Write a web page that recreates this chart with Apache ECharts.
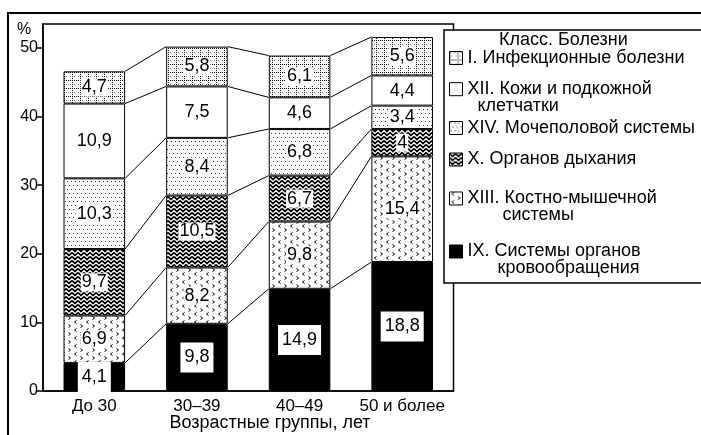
<!DOCTYPE html>
<html>
<head>
<meta charset="utf-8">
<script src="https://cdn.jsdelivr.net/npm/echarts@6/dist/echarts.min.js"></script>
<style>html,body{margin:0;padding:0;background:#fff;}#c{width:701px;height:435px;}</style>
</head>
<body>
<div id="c"></div>
<script>
// ---- data ----
const categories = ['До 30', '30–39', '40–49', '50 и более'];
const seriesNames = [
  'IX. Системы органов\n      кровообращения',
  'XIII. Костно-мышечной\n       системы',
  'X. Органов дыхания',
  'XIV. Мочеполовой системы',
  'XII. Кожи и подкожной\n  клетчатки',
  'I. Инфекционные болезни'
];
const valsIX   = [4.1, 9.8, 14.9, 18.8];
const valsXIII = [6.9, 8.2, 9.8, 15.4];
const valsX    = [9.7, 10.5, 6.7, 4];
const valsXIV  = [10.3, 8.4, 6.8, 3.4];
const valsXII  = [10.9, 7.5, 4.6, 4.4];
const valsI    = [4.7, 5.8, 6.1, 5.6];
const yTicks = [0, 10, 20, 30, 40, 50];
const legendTitle = 'Класс. Болезни';
const xTitle = 'Возрастные группы, лет';
const yTitle = '%';

const allVals = [valsIX, valsXIII, valsX, valsXIV, valsXII, valsI];

// ---- patterns ----
function makeTile(w, h, draw) {
  const c = document.createElement('canvas');
  c.width = w; c.height = h;
  const g = c.getContext('2d');
  g.fillStyle = '#fff'; g.fillRect(0, 0, w, h);
  g.fillStyle = '#000'; g.strokeStyle = '#000';
  draw(g);
  return { image: c, repeat: 'repeat' };
}
const patGrid = makeTile(8, 8, g => {
  for (let i = 0; i < 8; i += 2) { g.fillRect(0, i, 1, 1); g.fillRect(i, 0, 1, 1); }
  g.fillStyle = '#777';
  g.fillRect(2, 4, 1, 1); g.fillRect(6, 4, 1, 1);
});
const patDots = makeTile(4, 8, g => {
  g.fillStyle = '#333';
  g.fillRect(1, 1, 1, 1); g.fillRect(3, 5, 1, 1);
});
const patZig = makeTile(6, 4, g => {
  g.lineWidth = 1.6;
  for (let oy = -4; oy <= 4; oy += 4) {
    g.beginPath();
    g.moveTo(0, oy + 0.5); g.lineTo(3, oy + 3.5); g.lineTo(6, oy + 0.5);
    g.stroke();
  }
});
const patChev = makeTile(12, 8, g => {
  g.lineWidth = 1;
  g.beginPath();
  g.moveTo(4.5, 0.5); g.lineTo(2.5, 2); g.lineTo(4.5, 3.5);
  g.moveTo(8.5, 4.5); g.lineTo(10.5, 6); g.lineTo(8.5, 7.5);
  g.stroke();
});
const fills = ['#000', patChev, patZig, patDots, '#fff', patGrid];

const fmt = v => String(v).replace('.', ',');

// ---- connector lines data (cumulative tops) ----
const connData = [];
{
  const cum = [0, 0, 0, 0];
  allVals.forEach(arr => {
    for (let i = 0; i < 4; i++) cum[i] = +(cum[i] + arr[i]).toFixed(2);
    for (let i = 0; i < 3; i++) connData.push([i, cum[i], cum[i + 1]]);
  });
}

const series = allVals.map((arr, k) => ({
  name: seriesNames[k],
  type: 'bar',
  stack: 'all',
  barWidth: '60%',
  data: arr,
  itemStyle: { color: fills[k], borderColor: '#000', borderWidth: 1 },
  label: {
    show: true, position: 'inside',
    formatter: p => fmt(p.value),
    color: '#000', fontSize: 18, fontFamily: 'Liberation Sans',
    backgroundColor: '#fff',
    padding: k === 0 ? [6, 4] : [0, 1]
  },
  emphasis: { disabled: true },
  animation: false
}));
series.push({
  type: 'custom',
  data: connData,
  silent: true,
  animation: false,
  z: 1,
  renderItem: (params, api) => {
    const i = api.value(0);
    const half = api.size([1, 0])[0] * 0.3;
    const p1 = api.coord([i, api.value(1)]);
    const p2 = api.coord([i + 1, api.value(2)]);
    return { type: 'line', shape: { x1: p1[0] + half, y1: p1[1], x2: p2[0] - half, y2: p2[1] },
      style: { stroke: '#000', lineWidth: 1 } };
  }
});

// legend positions (icon centers)
const legendCenters = [251, 198, 159, 127.5, 88.7, 57.5];
const LH = 17;
const legends = seriesNames.map((n, k) => {
  const two = n.indexOf('\n') >= 0;
  return {
    data: [n], left: 449, top: legendCenters[k] - (two ? 1.5 * LH : LH / 2),
    padding: 0, itemWidth: 13, itemHeight: 13, itemGap: 0, icon: 'rect', selectedMode: false, z: 50,
    formatter: name => (name.indexOf('\n') >= 0 ? ' \n' + name : name),
    itemStyle: { borderColor: '#000', borderWidth: 1 },
    textStyle: { fontSize: 18, fontFamily: 'Liberation Sans', color: '#000', lineHeight: LH }
  };
});

const chart = echarts.init(document.getElementById('c'), null, { renderer: 'canvas' });
chart.setOption({
  animation: false,
  backgroundColor: '#fff',
  grid: { left: 43, right: 247.5, top: 24, bottom: 44, show: true, borderColor: '#000', borderWidth: 1.5 },
  xAxis: {
    type: 'category', data: categories,
    axisLine: { lineStyle: { color: '#000', width: 1.5 } },
    axisTick: { length: 5, lineStyle: { color: '#000', width: 1.5 } },
    axisLabel: { color: '#000', fontSize: 17, fontFamily: 'Liberation Sans', margin: 7, interval: 0 }
  },
  yAxis: {
    type: 'value', min: yTicks[0], max: 53.5, interval: yTicks[1] - yTicks[0],
    splitLine: { show: false },
    axisLine: { show: true, lineStyle: { color: '#000', width: 1.5 } },
    axisTick: { show: true, length: 6, lineStyle: { color: '#000', width: 1.5 } },
    axisLabel: { color: '#000', fontSize: 16, fontFamily: 'Liberation Sans', margin: 5, showMaxLabel: false }
  },
  legend: legends,
  series: series,
  graphic: [
    { type: 'rect', z: 40, shape: { x: 8, y: 13, width: 720, height: 450 },
      style: { fill: null, stroke: '#000', lineWidth: 2 } },
    { type: 'rect', z: 40, shape: { x: 444, y: 30, width: 280, height: 253 },
      style: { fill: '#fff', stroke: '#000', lineWidth: 1.5 } },
    { type: 'text', z: 45, style: { text: legendTitle, x: 499, y: 31, fontSize: 18, fontFamily: 'Liberation Sans', fill: '#000' } },
    { type: 'text', z: 45, style: { text: yTitle, x: 17, y: 22, fontSize: 16, fontFamily: 'Liberation Sans', fill: '#000' } },
    { type: 'text', z: 45, style: { text: xTitle, x: 270, y: 414, align: 'center', fontSize: 18, fontFamily: 'Liberation Sans', fill: '#000' } }
  ]
});
</script>
</body>
</html>
